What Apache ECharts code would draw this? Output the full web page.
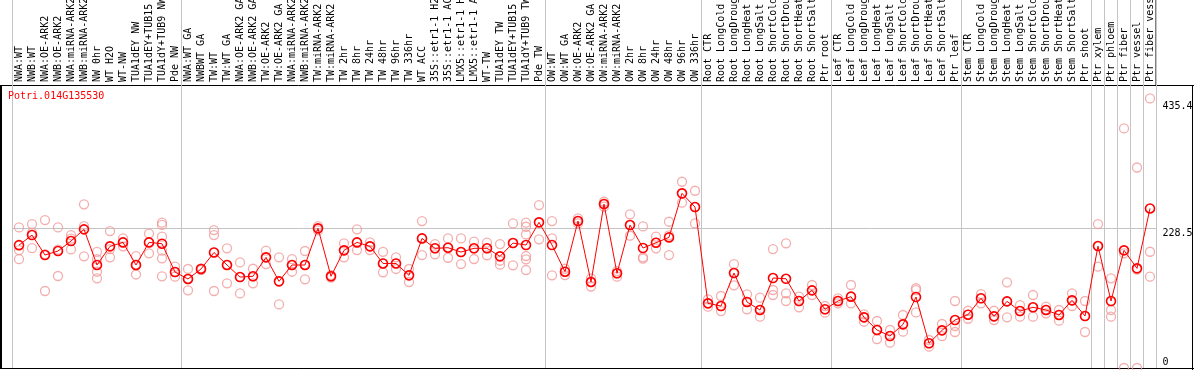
<!DOCTYPE html>
<html>
<head>
<meta charset="utf-8">
<script src="https://cdn.jsdelivr.net/npm/echarts@6/dist/echarts.min.js"></script>
<style>html,body{margin:0;padding:0;background:#fff}#c{width:1194px;height:370px}</style>
</head>
<body>
<div id="c"></div>
<script>
const TITLE = 'Potri.014G135530';
const CATEGORIES = [
  'NWA:WT','NWB:WT','NWA:OE-ARK2','NWB:OE-ARK2','NWA:miRNA-ARK2','NWB:miRNA-ARK2','NW 0hr','WT H2O','WT-NW','TUA1dEY NW',
  'TUA1dEY+TUB15 NW','TUA1dY+TUB9 NW','Pde NW','NWA:WT GA','NWBWT GA','TW:WT','TW:WT GA','NWA:OE-ARK2 GA','NWB:OE-ARK2 GA','TW:OE-ARK2',
  'TW:OE-ARK2 GA','NWA:miRNA-ARK2','NWB:miRNA-ARK2','TW:miRNA-ARK2','TW:miRNA-ARK2','TW 2hr','TW 8hr','TW 24hr','TW 48hr','TW 96hr',
  'TW 336hr','WT ACC','35S::etr1-1 H2O','35S::etr1-1 ACC','LMX5::etr1-1 H2O','LMX5::etr1-1 ACC','WT-TW','TUA1dEY TW','TUA1dEY+TUB15 TW','TUA1dY+TUB9 TW',
  'Pde TW','OW:WT','OW:WT GA','OW:OE-ARK2','OW:OE-ARK2 GA','OW:miRNA-ARK2','OW:miRNA-ARK2','OW 2hr','OW 8hr','OW 24hr',
  'OW 48hr','OW 96hr','OW 336hr','Root CTR','Root LongCold','Root LongDrought','Root LongHeat','Root LongSalt','Root ShortCold','Root ShortDrought',
  'Root ShortHeat','Root ShortSalt','Ptr root','Leaf CTR','Leaf LongCold','Leaf LongDrought','Leaf LongHeat','Leaf LongSalt','Leaf ShortCold','Leaf ShortDrought',
  'Leaf ShortHeat','Leaf ShortSalt','Ptr leaf','Stem CTR','Stem LongCold','Stem LongDrought','Stem LongHeat','Stem LongSalt','Stem ShortCold','Stem ShortDrought',
  'Stem ShortHeat','Stem ShortSalt','Ptr shoot','Ptr xylem','Ptr phloem','Ptr fiber','Ptr vessel','Ptr fiber vessel'
];
const MEANS = [
  201,217.5,184.8,191.4,207.7,226.8,168.5,199,205.5,168.5,
  205.5,203.3,157,145.6,162,189,168.5,148.8,150,181,
  141.8,168.5,168.5,228.5,150,192.5,205.5,199,171,171,
  151.6,212,195.8,196.8,189.7,195.8,195.8,182.7,204.4,201.2,
  238.3,201.2,157.5,240.4,140.7,268.2,154.9,233.9,196.3,205,
  213.7,285.7,263.3,105.8,101.4,155.4,108,94.9,147.2,146,
  109.6,127,96,109.6,116.7,82.9,62.2,52.3,71.4,116.1,
  40.4,61.6,78.5,87.2,114,84.5,109,93.2,99.3,94.9,
  86.7,110.7,85,199.5,109.6,192.5,163,261
];
const REPLICATES = [
  [230,193,178],[235.5,221,196],[242,186,126],[230,193.6,150.5],[217.5,211.6,194],[267.7,232,182.7],[190,178,157.5,146.7],[224,194.6,181],[212,205.5,199],[183,168.5,153],
  [220,205.5,187.6],[237.7,234,214.8,192,179.4,150],[165.7,157,149.4],[162,145.6,127],[163,162,160],[225.7,217.5,189,126],[195.8,168.5,138.5],[172.8,148.8,122],[162.4,150,138.5],[192,181,170],
  [181,141.8,104],[178,168.5,157.5],[191.4,168.5,145],[232,228.5,225],[152,150,148],[204,192.5,181],[226.8,205.5,193],[205.5,199,193],[190,171,156.5],[181,171,162],
  [162,151.6,140.7],[240.4,212,184.8],[202.8,195.8,186],[212,196.8,180.4],[212,189.7,170],[206.6,195.8,178.3],[205,195.8,184.3],[202.8,175.5,169],[236.6,204.4,168],[237.7,231.1,218.6,183.2,177.8,160.3],
  [266.6,238.3,210.5],[240.4,212,151.6],[162.4,157.5,152],[244.7,240.4,236.6],[146.5,140.7,133.3],[272,268,264],[158.5,154.9,149.4],[251.4,233.9,216.4],[231.7,181,178.8],[214.8,205,195.8],
  [239.3,217,184.8],[304.7,285.7,270.4],[290,263.3,236.6],[112.4,105.8,100.3],[117.8,101.4,93.2],[170,155.4,135.3],[120.5,108,96],[115,94.9,83.9],[194.6,127.6,119.4],[204,122.2,109.6],
  [116.7,109.6,99.3],[135.8,127,119.4],[101.4,96,90.5],[114,109.6,105.8],[135.8,116.7,105.8],[87.8,82.9,75.7],[76.9,62.2,47.4],[62.2,52.3,41.4],[86.7,71.4,59.4],[130.5,127.5,91],
  [45.8,40.4,34.9],[72,61.6,52.3],[109.6,68.7,58.9],[93.7,87.2,80.6],[121,114,105.8],[93.7,84.5,78.5],[140.2,109,82.9],[103,93.2,84],[119.4,99.3,84],[100.3,94.9,89.5],
  [94.9,86.7,77.4],[122.2,110.7,101.4],[109.6,85,58.9],[235.5,199.5,165.7],[146.7,94.9,84],[392,187.6,0],[328,161,0],[441,190.2,149.4]
];
// indices (0-based) of categories whose left edge carries a group separator
const GROUP_STARTS = [0,13,41,53,63,73,83,84,85,86,87];
const Y_TICKS = [0, 228.5, 435.4];
const REF_LINE = 228.5;
const Y_MAX = 463;

const repData = [];
REPLICATES.forEach((arr, i) => arr.forEach(v => repData.push([i, v])));
const sepFn = (idx) => GROUP_STARTS.indexOf(idx) >= 0;
const MONO = 'DejaVu Sans Mono';

const chart = echarts.init(document.getElementById('c'), null, {renderer: 'canvas'});
chart.setOption({
  animation: false,
  backgroundColor: '#fff',
  title: {
    text: TITLE, left: 8, top: 91, padding: 0,
    textStyle: {color: '#ff0000', fontSize: 10, fontWeight: 'normal', fontFamily: MONO}
  },
  grid: [
    {left: 12.5, right: 37.5, top: 0, height: 85, outerBoundsMode: 'none', containLabel: false},
    {left: 12.5, right: 37.5, top: 85, bottom: 2, outerBoundsMode: 'none', containLabel: false}
  ],
  xAxis: [
    {
      type: 'category', gridIndex: 0, data: CATEGORIES, boundaryGap: true,
      axisLine: {show: false}, axisTick: {show: false}, axisLabel: {show: false},
      splitLine: {show: true, interval: sepFn, lineStyle: {color: '#c4c4c4', width: 1}}
    },
    {
      type: 'category', gridIndex: 1, data: CATEGORIES, position: 'top', boundaryGap: true,
      axisLine: {show: true, lineStyle: {color: '#000', width: 1}},
      axisTick: {show: false},
      axisLabel: {show: true, interval: 0, rotate: 90, margin: 3, fontSize: 10, fontFamily: MONO, color: '#000'},
      splitLine: {show: true, interval: sepFn, lineStyle: {color: '#c4c4c4', width: 1}}
    }
  ],
  yAxis: [
    {type: 'value', gridIndex: 0, min: 0, max: 1, show: false},
    {
      type: 'value', gridIndex: 1, position: 'right', min: 0, max: Y_MAX,
      axisLine: {show: false}, axisTick: {show: false}, splitLine: {show: false},
      axisLabel: {
        show: true, customValues: Y_TICKS, margin: 6, color: '#000', fontSize: 10, fontFamily: MONO,
        verticalAlign: 'middle', align: 'left',
        formatter: (v) => v === 0 ? '{b|0}' : '{t|' + v + '}',
        rich: {
          t: {fontSize: 10, fontFamily: MONO, color: '#000', padding: [10, 0, 0, 0]},
          b: {fontSize: 10, fontFamily: MONO, color: '#000', padding: [0, 0, 12, 0]}
        }
      }
    }
  ],
  graphic: [
    {type: 'line', shape: {x1: 1, y1: 85, x2: 1, y2: 368}, style: {stroke: '#000', lineWidth: 2}, silent: true},
    {type: 'line', shape: {x1: 0, y1: 368.5, x2: 1194, y2: 368.5}, style: {stroke: '#000', lineWidth: 1}, silent: true},
    {type: 'line', shape: {x1: 1192.5, y1: 85, x2: 1192.5, y2: 370}, style: {stroke: '#000', lineWidth: 1}, silent: true},
    {type: 'line', shape: {x1: 0, y1: 85.5, x2: 1194, y2: 85.5}, style: {stroke: '#000', lineWidth: 1}, silent: true},
    {type: 'line', shape: {x1: 1156, y1: 0, x2: 1156, y2: 85}, style: {stroke: '#000', lineWidth: 1}, silent: true}
  ],
  series: [
    {
      name: 'replicates', type: 'scatter', xAxisIndex: 1, yAxisIndex: 1, data: repData,
      symbol: 'circle', symbolSize: 9, z: 2,
      itemStyle: {color: 'rgba(0,0,0,0)', borderColor: '#f09a9a', borderWidth: 1.3}
    },
    {
      name: 'mean', type: 'line', xAxisIndex: 1, yAxisIndex: 1, data: MEANS,
      symbol: 'circle', symbolSize: 9, showAllSymbol: true, z: 3,
      lineStyle: {color: '#ff0000', width: 1},
      itemStyle: {color: 'rgba(0,0,0,0)', borderColor: '#ff0000', borderWidth: 1.6},
      markLine: {
        silent: true, symbol: 'none', label: {show: false}, z: 1,
        lineStyle: {color: '#c4c4c4', type: 'solid', width: 1},
        data: [{yAxis: REF_LINE}]
      }
    }
  ]
});
</script>
</body>
</html>
